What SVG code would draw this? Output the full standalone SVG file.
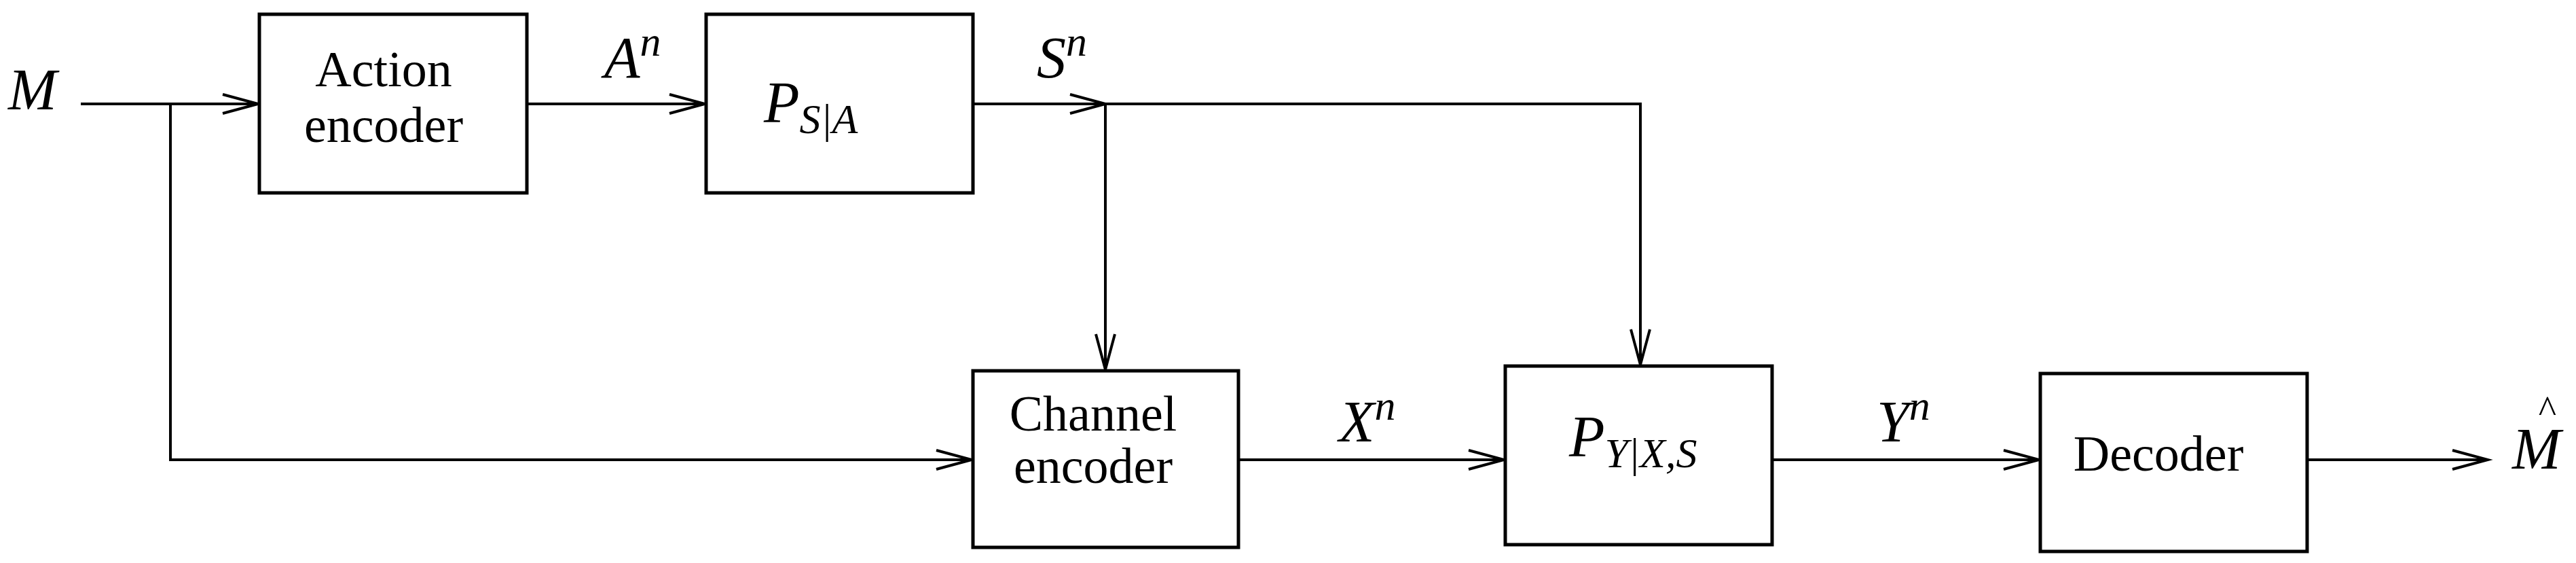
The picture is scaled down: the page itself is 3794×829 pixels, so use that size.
<svg xmlns="http://www.w3.org/2000/svg" width="3794" height="829" viewBox="0 0 3794 829">
<style>
.box{fill:#fff;stroke:#000;stroke-width:5}
.ln{fill:none;stroke:#000;stroke-width:4}
.t{font-family:"Liberation Serif",serif;font-size:74px;text-anchor:middle}
.m{font-family:"Liberation Serif",serif;font-style:italic;font-size:86px}
.s{font-size:62px}
</style>
<defs>
<marker id="a" markerUnits="userSpaceOnUse" markerWidth="70" markerHeight="40" viewBox="-60 -20 70 40" refX="0" refY="0" orient="auto">
<path d="M-52,-14 L0,0 L-52,14" fill="none" stroke="#000" stroke-width="4"/>
</marker>
</defs>
<g id="connectors" class="ln">
<path d="M119,153 H380" marker-end="url(#a)"/>
<path d="M251,153 V677 H1431" marker-end="url(#a)"/>
<path d="M776,153 H1038" marker-end="url(#a)"/>
<path d="M1433,153 H1628" marker-end="url(#a)"/>
<path d="M1628,153 V544"  marker-end="url(#a)"/>
<path d="M1628,153 H2416 V537" marker-end="url(#a)"/>
<path d="M1824,677 H2215" marker-end="url(#a)"/>
<path d="M2610,677 H3003" marker-end="url(#a)"/>
<path d="M3398,677 H3664" marker-end="url(#a)"/>
</g>
<g id="M"><text class="m" x="12" y="161">M</text></g>
<g id="action-encoder"><rect class="box" x="382" y="21" width="394" height="263"/><text class="t" x="565" y="127">Action</text><text class="t" x="565" y="209">encoder</text></g>
<g id="PSA"><rect class="box" x="1040" y="21" width="393" height="263"/><text class="m" x="1125" y="180">P<tspan class="s" dy="16">S|A</tspan></text></g>
<g id="channel-encoder"><rect class="box" x="1433" y="546" width="391" height="260"/><text class="t" x="1610" y="634">Channel</text><text class="t" x="1610" y="711">encoder</text></g>
<g id="PYXS"><rect class="box" x="2217" y="539" width="393" height="263"/><text class="m" x="2311" y="672">P<tspan class="s" dy="16">Y|X,S</tspan></text></g>
<g id="decoder"><rect class="box" x="3005" y="550" width="393" height="262"/><text class="t" x="3179" y="693">Decoder</text></g>
<g id="labels">
<text class="m" x="890" y="114">A<tspan class="s" dy="-32">n</tspan></text>
<text class="m" x="1527" y="114">S<tspan class="s" dy="-32">n</tspan></text>
<text class="m" x="1972" y="650">X<tspan class="s" dy="-32">n</tspan></text>
<text class="m" x="2764" y="650">Y<tspan class="s" dy="-32">n</tspan></text>
<text class="m" x="3700" y="690">M</text>
<text x="3752" y="622" style="font-family:'Liberation Serif',serif;font-size:56px" text-anchor="middle">^</text>
</g>
</svg>
